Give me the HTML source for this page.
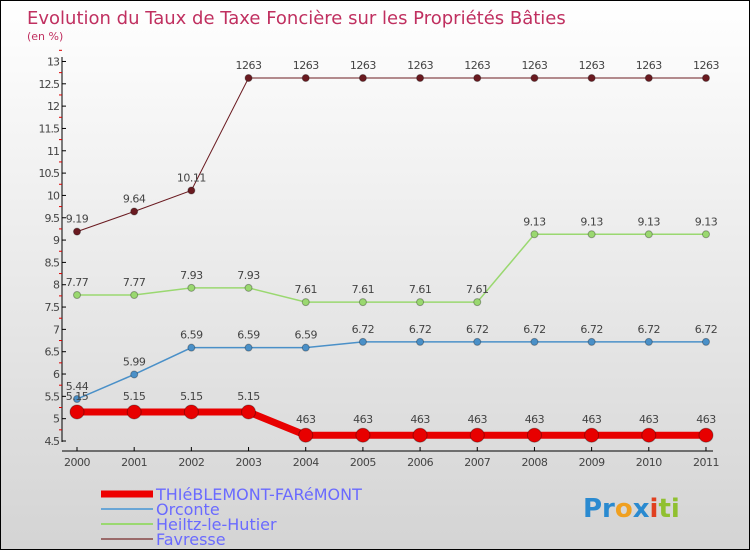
<!DOCTYPE html>
<html><head><meta charset="utf-8"><style>
body{margin:0}
#c{width:748px;height:548px;border:1px solid #000;background:linear-gradient(#fff,#d4d4d4);position:relative;overflow:hidden;font-family:"DejaVu Sans","Liberation Sans",sans-serif}
</style></head><body>
<div id="c">
<svg width="748" height="548" id="svg">
<text x="26" y="23" font-size="18" fill="#c03060">Evolution du Taux de Taxe Foncière sur les Propriétés Bâties</text>
<text x="26" y="39" font-size="11" fill="#c03060">(en %)</text>
<g id="axes"></g><g id="series"></g>
<g font-size="16" fill="#6a6aff">
<line x1="100" y1="493" x2="152" y2="493" stroke="#e00" stroke-width="7"/>
<text x="155" y="499">THIéBLEMONT-FARéMONT</text>
<line x1="100" y1="508" x2="152" y2="508" stroke="#6aa6d6" stroke-width="2"/>
<text x="155" y="514">Orconte</text>
<line x1="100" y1="523" x2="152" y2="523" stroke="#9ad870" stroke-width="2"/>
<text x="155" y="529">Heiltz-le-Hutier</text>
<line x1="100" y1="538" x2="152" y2="538" stroke="#9a6a6a" stroke-width="2"/>
<text x="155" y="544">Favresse</text>
</g>
<text x="582" y="516" font-size="26" font-weight="bold"><tspan fill="#2a8ad0">Pr</tspan><tspan fill="#f0a020">o</tspan><tspan fill="#2a8ad0">x</tspan><tspan fill="#e04020">i</tspan><tspan fill="#90c030">ti</tspan></text>
</svg></div>
<script>
const years=[2000,2001,2002,2003,2004,2005,2006,2007,2008,2009,2010,2011];
const thieblemont=[5.15,5.15,5.15,5.15,4.63,4.63,4.63,4.63,4.63,4.63,4.63,4.63];
const orconte=[5.44,5.99,6.59,6.59,6.59,6.72,6.72,6.72,6.72,6.72,6.72,6.72];
const heiltz=[7.77,7.77,7.93,7.93,7.61,7.61,7.61,7.61,9.13,9.13,9.13,9.13];
const favresse=[9.19,9.64,10.11,12.63,12.63,12.63,12.63,12.63,12.63,12.63,12.63,12.63];
const yTicks=[4.5,5,5.5,6,6.5,7,7.5,8,8.5,9,9.5,10,10.5,11,11.5,12,12.5,13];
const NS="http://www.w3.org/2000/svg";
const xs=i=>76+i*57.18;
const ys=v=>440-(v-4.5)*44.65;
function mk(t,a,p){const e=document.createElementNS(NS,t);for(const k in a)e.setAttribute(k,a[k]);p.appendChild(e);return e;}
const ax=document.getElementById('axes');
const yl=mk('line',{x1:61,y1:56,x2:61,y2:441,stroke:'#000'},ax);


const xl=mk('line',{x1:61,y1:450,x2:712,y2:450,stroke:'#000'},ax);


yTicks.forEach(v=>{
 mk('line',{x1:61,y1:ys(v),x2:65,y2:ys(v),stroke:'#000'},ax);
 mk('line',{x1:58,y1:ys(v+0.25),x2:61,y2:ys(v+0.25),stroke:'#d00'},ax);
 const t=mk('text',{x:58,y:ys(v)+4,'font-size':11,'text-anchor':'end',fill:'#444','letter-spacing':'-1'},ax);
 t.textContent=String(v);
 
 
});
years.forEach((y,i)=>{
 mk('line',{x1:xs(i),y1:446,x2:xs(i),y2:450,stroke:'#000'},ax);
 const t=mk('text',{x:xs(i),y:465,'font-size':11,'text-anchor':'middle',fill:'#444','letter-spacing':'-0.5'},ax);
 t.textContent=y;
 
 
});
const sg=document.getElementById('series');
function series(vals,name,color,lw,r,fmt){
 const g=mk('g',{},sg);
 
 
 mk('polyline',{points:vals.map((v,i)=>xs(i)+','+ys(v)).join(' '),fill:'none',stroke:color,'stroke-width':lw},g);
 vals.forEach((v,i)=>{
  const c=mk('circle',{cx:xs(i),cy:ys(v),r:r,fill:color,stroke:'rgba(0,0,0,0.3)'},g);
  
  
  const t=mk('text',{x:xs(i),y:ys(v)-9-(r>5?3:0),'font-size':11,'text-anchor':'middle',fill:'#444','letter-spacing':'-0.5'},g);
  t.textContent=fmt(v);
  
  
 });
}
series(favresse,'favresse','#6a1a20',1,3.5,v=>v>=12?'1263':String(v));
series(heiltz,'heiltz','#9ad870',1.5,3.5,String);
series(orconte,'orconte','#4a90c8',1.5,3.5,String);
series(thieblemont,'thieblemont','#e80000',7,7,v=>v==4.63?'463':String(v));
</script>
</body></html>
